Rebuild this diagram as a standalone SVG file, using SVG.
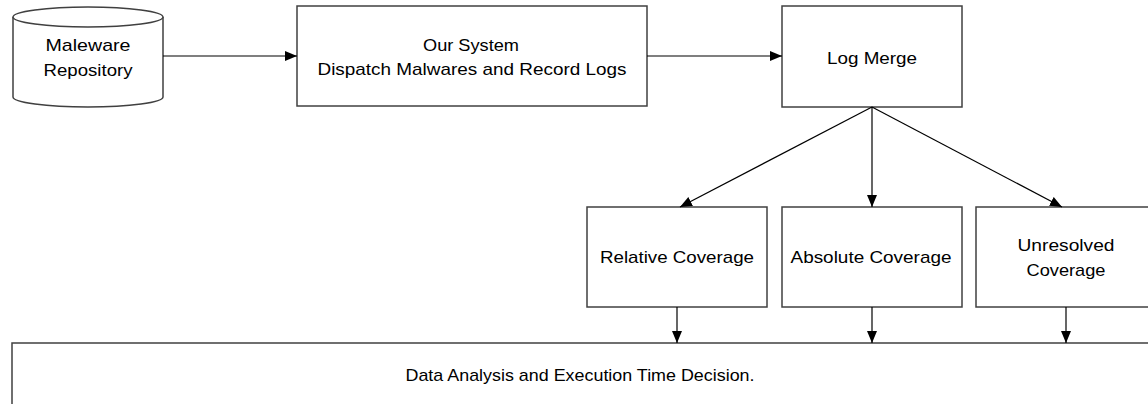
<svg xmlns="http://www.w3.org/2000/svg" width="1148" height="404" viewBox="0 0 1148 404">
<style>
.box{fill:#fff;stroke:#404040;stroke-width:1.5}
.t{font-family:"Liberation Sans",Arial,sans-serif;font-size:17px;fill:#000;text-anchor:middle}
.c{stroke:#000;stroke-width:1.2;fill:none;marker-end:url(#ah)}
</style>
<defs>
<marker id="ah" viewBox="0 0 12 10" refX="12" refY="5" markerWidth="12" markerHeight="10" markerUnits="userSpaceOnUse" orient="auto">
<path d="M0,0 L12,5 L0,10 Z" fill="#000"/>
</marker>
</defs>
<g id="repo">
<path class="box" d="M13,17 L13,97 A75,10 0 0 0 163,97 L163,17 A75,10 0 0 0 13,17 Z"/>
<path class="box" fill="none" d="M13,17 A75,10 0 0 0 163,17"/>
<text class="t" x="88" y="51" textLength="85" lengthAdjust="spacingAndGlyphs">Maleware</text>
<text class="t" x="88" y="76" textLength="89" lengthAdjust="spacingAndGlyphs">Repository</text>
</g>
<g id="system">
<rect class="box" x="297" y="6" width="350" height="100"/>
<text class="t" x="471" y="51" textLength="96" lengthAdjust="spacingAndGlyphs">Our System</text>
<text class="t" x="472" y="75" textLength="309" lengthAdjust="spacingAndGlyphs">Dispatch Malwares and Record Logs</text>
</g>
<g id="logmerge">
<rect class="box" x="782" y="6" width="180" height="101"/>
<text class="t" x="872" y="64" textLength="90" lengthAdjust="spacingAndGlyphs">Log Merge</text>
</g>
<g id="relative">
<rect class="box" x="587" y="207" width="180" height="100"/>
<text class="t" x="677" y="263" textLength="154" lengthAdjust="spacingAndGlyphs">Relative Coverage</text>
</g>
<g id="absolute">
<rect class="box" x="782" y="207" width="180" height="100"/>
<text class="t" x="871" y="263" textLength="161" lengthAdjust="spacingAndGlyphs">Absolute Coverage</text>
</g>
<g id="unresolved">
<rect class="box" x="976" y="207" width="180" height="100"/>
<text class="t" x="1066" y="251" textLength="97" lengthAdjust="spacingAndGlyphs">Unresolved</text>
<text class="t" x="1066" y="276" textLength="79" lengthAdjust="spacingAndGlyphs">Coverage</text>
</g>
<g id="analysis">
<rect class="box" x="12" y="343" width="1150" height="80"/>
<text class="t" x="580" y="381" textLength="349" lengthAdjust="spacingAndGlyphs">Data Analysis and Execution Time Decision.</text>
</g>
<g id="connectors">
<line class="c" x1="163" y1="56" x2="297" y2="56"/>
<line class="c" x1="647" y1="56" x2="782" y2="56"/>
<line class="c" x1="872" y1="107" x2="680" y2="207"/>
<line class="c" x1="872" y1="107" x2="872" y2="207"/>
<line class="c" x1="872" y1="107" x2="1062" y2="207"/>
<line class="c" x1="677" y1="307" x2="677" y2="343"/>
<line class="c" x1="872" y1="307" x2="872" y2="343"/>
<line class="c" x1="1066" y1="307" x2="1066" y2="343"/>
</g>
</svg>
